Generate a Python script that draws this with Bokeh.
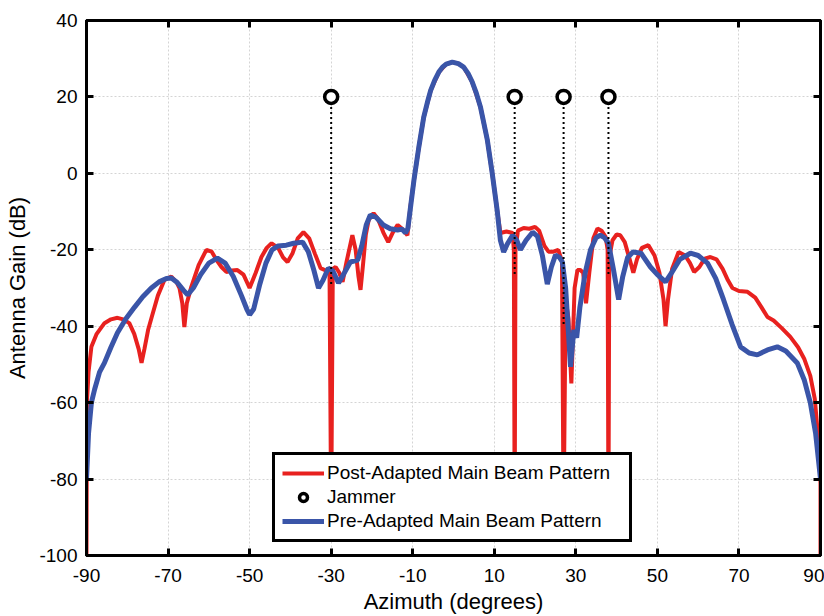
from bokeh.plotting import figure
from bokeh.models import Range1d, LinearAxis, FixedTicker, Legend, LegendItem
from bokeh.embed import file_html
from bokeh.resources import INLINE

# ---------------- data ----------------
pre_az = [-90, -89.5, -88.8, -88.0, -86.8, -85.6, -84.0, -82.4, -80.3, -78.2,
          -76.2, -74.1, -72.2, -70.4, -69.2, -67.8, -66.3, -65.2, -63.8, -62.0,
          -60.0, -57.9, -56.0, -54.0, -52.0, -50.7, -50.0, -49.0, -47.5, -46.0,
          -44.5, -43.0, -41.0, -39.2, -37.0, -35.6, -34.2, -33.1, -32.0, -30.7,
          -29.6, -28.2, -27.0, -25.3, -23.5, -22.5, -21.4, -20.4, -19.0, -17.2,
          -15.5, -13.7, -12.6, -11.8, -11.2, -10.5, -9.7, -8.5, -7.3, -6.4,
          -5.6, -4.6, -3.6, -2.7, -1.8, -0.3, 1.2, 2.5, 3.6, 4.6,
          5.6, 6.6, 8.3, 9.5, 10.7,
          11.5, 12.3, 13.2, 14.5, 15.5, 16.4, 17.8, 19.4, 20.6, 21.8,
          23.0, 24.0, 25.0, 26.0, 26.7, 27.5, 28.2, 28.7, 29.5, 30.2,
          31.0, 32.3, 33.6, 35.0, 36.0, 37.0, 38.0, 39.2, 40.5, 41.5,
          42.7, 44.0, 46.0, 48.3, 50.0, 52.0, 53.5, 55.5, 58.1, 60.0,
          62.3, 64.3, 66.2, 68.3, 70.4, 72.5, 74.5, 77.0, 79.4, 81.5,
          84.3, 86.0, 87.5, 88.8, 90.0]
pre_db = [-80, -68, -60, -56.5, -52, -49.6, -45.5, -41.7, -38, -35,
          -32.3, -30, -28.4, -27.5, -27.4, -28.5, -30.5, -31.8, -30, -26.5,
          -23.5, -22.2, -23.5, -27, -32, -35.5, -37, -35.5, -29, -23.5,
          -20, -19, -18.8, -18.3, -18, -20.5, -25.5, -30, -28, -24.8,
          -25.5, -28.7, -26.5, -23.2, -22.7, -19, -13.5, -10.9, -11.5, -13.5,
          -14.5, -14.8, -14.6, -15.6, -14.5, -8.5, -1.8, 6.9, 14.7, 18.6,
          21.7, 24.4, 26.5, 27.8, 28.6, 29.1, 28.7, 27.8, 26.1, 23.9,
          21.0, 17.4, 8.7, 0, -9.6,
          -17.5, -20.6, -18.5, -16.2, -17.5, -20, -17.5, -15.4, -16.5, -21.5,
          -29, -24.5, -21.4, -22, -23.2, -30, -42, -50.6, -41, -43,
          -35, -26, -20, -16.8, -16.2, -16.8, -18.3, -25, -33, -27,
          -22, -20.6, -20.9, -24.5, -26.5, -28.4, -26, -22.5, -20.9, -21.5,
          -23.5, -27.5, -33, -39.5, -45.4, -47, -47.5, -46.2, -45.4, -46.5,
          -49.6, -54, -60, -68, -80]

post_az = [-90, -89.9, -89.5, -88.8, -87.5, -85.6, -84.0, -82.4, -81.0, -79.5,
           -78.3, -77.2, -76.5, -75.8, -74.9, -74.0, -72.5, -70.9, -69.2, -67.9,
           -67.2, -66.5, -66.0, -65.4, -64.3, -62.5, -60.6, -59.3, -58.1, -56.9,
           -55.7, -54.3, -53.0, -51.5, -50.0, -48.5, -47.1, -45.8, -44.6, -43.0,
           -41.8, -40.7, -39.5, -38.2, -36.8, -35.4, -34.0, -32.6, -31.2, -30.4,
           -30.0, -29.6, -28.9, -28.0, -27.2, -26.2, -24.8, -24.0, -23.3, -22.8,
           -22.2, -21.5, -20.8, -19.6, -18.5, -17.2, -16.0, -14.9, -13.7, -12.6,
           -11.3, -10.6, -9.7, -8.5, -7.3, -5.6, -3.6, -1.8, -0.3, 1.2,
           2.5, 4.6, 6.6, 8.3, 9.5, 10.7, 11.5, 13.0, 14.5, 14.8,
           15.0, 15.2, 15.8, 17.2, 18.6, 20.0, 21.0, 22.3, 23.3, 24.5,
           25.7, 26.6, 27.0, 27.5, 28.2, 28.9, 29.7, 30.4, 31.1, 31.8,
           32.5, 33.3, 34.3, 35.3, 36.3, 37.3, 37.8, 38.0, 38.2, 39.0,
           40.0, 40.9, 42.0, 43.2, 44.1, 45.0, 46.2, 47.8, 49.3, 50.5,
           51.5, 52.0, 52.6, 53.6, 55.2, 56.8, 58.0, 59.0, 60.3, 61.6,
           63.0, 64.5, 66.0, 67.3, 68.4, 70.0, 72.1, 74.0, 75.5, 77.0,
           78.5, 80.5, 82.6, 84.5, 86.0, 87.5, 88.6, 89.5, 90.0, 90.0]
post_db = [-100, -60, -52, -45.4, -42, -39.2, -38.2, -37.8, -38.2, -39.2,
           -42, -46, -49.6, -46, -41, -37.6, -32, -27.9, -27, -28.5,
           -30, -34, -40.2, -34, -29.7, -24, -20, -20.5, -22.7, -24.5,
           -25.8, -25.4, -25.3, -26.5, -30, -26, -21.9, -19.5, -18.3, -19.5,
           -22, -23.2, -21, -17, -15.4, -17, -21, -24.8, -25.5, -26,
           -90, -25, -24.5, -26, -28.4, -23, -16.2, -20, -27, -30.5,
           -24, -16, -12.2, -10.4, -12, -15.5, -18, -15.5, -13.5, -14.5,
           -16.2, -9, -1.8, 6.9, 14.7, 21.7, 26.5, 28.6, 29.1, 28.7,
           27.8, 23.9, 17.4, 8.7, 0, -9.6, -15.6, -15.2, -15.6, -20,
           -90, -20, -15, -14.3, -14.5, -14, -15, -19, -20.5, -20.5,
           -20, -23, -90, -33, -38, -55, -30, -25.3, -25.3, -26,
           -34, -26, -17, -14.4, -15, -16.6, -20, -90, -22, -17.5,
           -16, -16.2, -18, -22.5, -26, -22.5, -19.5, -18.8, -21.5, -26,
           -33, -40, -33, -25, -20.6, -21.5, -23.5, -25.8, -24.5, -22.3,
           -21.9, -22.5, -25, -28, -30, -30.8, -31, -32.5, -35, -37.6,
           -38.5, -40.5, -42.8, -45.5, -48.5, -53, -59, -70, -81, -100]

jam_az = [-30, 15, 27, 38]
jam_db = [20, 20, 20, 20]
jam_stem_end = [-29, -26.6, -40, -27]

x_ticks = [-90, -70, -50, -30, -10, 10, 30, 50, 70, 90]
x_tick_labels = ["-90", "-70", "-50", "-30", "-10", "10", "30", "50", "70", "90"]
y_ticks = [-100, -80, -60, -40, -20, 0, 20, 40]
y_tick_labels = ["-100", "-80", "-60", "-40", "-20", "0", "20", "40"]

RED = "#e8211f"
BLUE = "#3a55a8"
FONT = "Liberation Sans"

p = figure(width=824, height=616, x_range=Range1d(-90, 90), y_range=Range1d(-100, 40),
           output_backend="svg", toolbar_location=None,
           min_border_left=86, min_border_right=4, min_border_top=20, min_border_bottom=60,
           x_axis_label="Azimuth (degrees)", y_axis_label="Antenna Gain (dB)")

p.outline_line_color = "black"
p.outline_line_width = 3
p.outline_line_alpha = 1
p.background_fill_color = "white"
p.border_fill_color = "white"

# axes
p.xaxis.ticker = FixedTicker(ticks=x_ticks)
p.yaxis.ticker = FixedTicker(ticks=y_ticks)
p.xaxis.major_label_overrides = dict(zip(x_ticks, x_tick_labels))
p.yaxis.major_label_overrides = dict(zip(y_ticks, y_tick_labels))
for ax in (p.xaxis, p.yaxis):
    ax.axis_line_color = "black"
    ax.axis_line_width = 3
    ax.major_tick_in = 7
    ax.major_tick_out = 0
    ax.major_tick_line_width = 3
    ax.major_tick_line_color = "black"
    ax.minor_tick_line_color = None
    ax.major_label_text_font = FONT
    ax.major_label_text_font_size = "19px"
    ax.major_label_text_color = "black"
    ax.axis_label_text_font = FONT
    ax.axis_label_text_font_size = "22px"
    ax.axis_label_text_font_style = "normal"
    ax.axis_label_text_color = "black"
p.xaxis.major_label_standoff = 13
p.xaxis.axis_label_standoff = 4
p.yaxis.major_label_standoff = 9
p.yaxis.axis_label_standoff = 6

top_ax = LinearAxis(ticker=FixedTicker(ticks=x_ticks),
                    major_label_overrides={t: "" for t in x_ticks})
right_ax = LinearAxis(ticker=FixedTicker(ticks=y_ticks),
                      major_label_overrides={t: "" for t in y_ticks})
for ax in (top_ax, right_ax):
    ax.axis_line_color = "black"
    ax.axis_line_width = 3
    ax.major_tick_in = 7
    ax.major_tick_out = 0
    ax.major_tick_line_width = 3
    ax.major_tick_line_color = "black"
    ax.minor_tick_line_color = None
    ax.major_label_standoff = 0
    ax.major_label_text_font_size = "1px"
p.add_layout(top_ax, "above")
p.add_layout(right_ax, "right")

# grid
p.xgrid.ticker = FixedTicker(ticks=x_ticks)
p.ygrid.ticker = FixedTicker(ticks=y_ticks)
p.grid.grid_line_color = "#d4d4d4"
p.grid.grid_line_dash = "2 2"
p.grid.grid_line_width = 1

# data
r_post = p.line(post_az, post_db, line_color=RED, line_width=4)
r_pre = p.line(pre_az, pre_db, line_color=BLUE, line_width=5)
p.segment(x0=jam_az, y0=jam_db, x1=jam_az, y1=jam_stem_end,
          line_color="black", line_width=2, line_dash="2 3")
r_jam = p.scatter(jam_az, jam_db, marker="circle", size=13, fill_color="white",
                  line_color="black", line_width=3.5)

legend = Legend(items=[
    LegendItem(label="Post-Adapted Main Beam Pattern", renderers=[r_post]),
    LegendItem(label="Jammer", renderers=[r_jam]),
    LegendItem(label="Pre-Adapted Main Beam Pattern", renderers=[r_pre]),
], location=(186, 13))
legend.margin = 0
legend.padding = 7
legend.spacing = 2
legend.glyph_width = 42
legend.glyph_height = 20
legend.label_height = 20
legend.label_width = 295
legend.label_standoff = 3
legend.label_text_font = FONT
legend.label_text_font_size = "19px"
legend.label_text_color = "black"
legend.border_line_color = "black"
legend.border_line_width = 3
legend.border_line_alpha = 1
legend.background_fill_color = "white"
legend.background_fill_alpha = 1
p.add_layout(legend)

open("out.html", "w").write(file_html(p, INLINE))
